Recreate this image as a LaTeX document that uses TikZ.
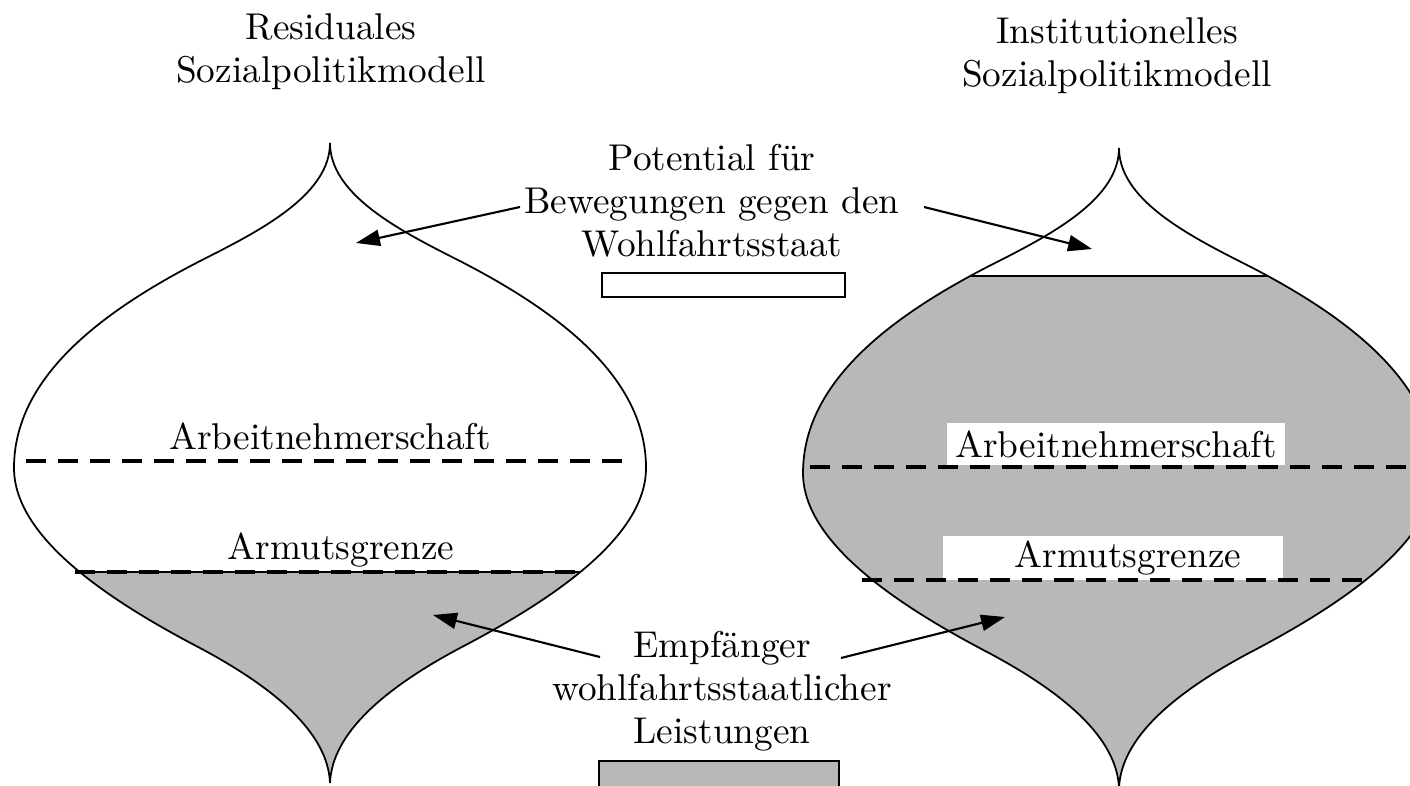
\documentclass[tikz,border=0pt]{standalone}
\usepackage{tikz}
\usetikzlibrary{arrows.meta,calc}
\definecolor{leistgray}{RGB}{184,184,184}
% outline of one model, tip at the origin
\newcommand{\zwiebel}{(0,0) .. controls (0,50) and (-65,85) .. (-120,113)
  .. controls (-230,168) and (-316,235) .. (-316,325)
  .. controls (-316,395) and (-220,458) .. (-130,505)
  .. controls (-55,545) and (-2,590) .. (0,640)
  .. controls (2,590) and (55,545) .. (130,505)
  .. controls (220,458) and (316,395) .. (316,325)
  .. controls (316,235) and (230,168) .. (120,113)
  .. controls (65,85) and (0,50) .. (0,0) -- cycle}
\tikzset{
  txt/.style={font=\fontsize{10.6}{12.2}\selectfont, align=center, inner sep=0pt},
  linie/.style={line width=1.1pt, dash pattern=on 5.7pt off 3.4pt},
  pfeil/.style={line width=0.6pt, -{Triangle[length=6.8pt,width=4.6pt]}},
}
\begin{document}
\begin{tikzpicture}[x=0.01cm, y=-0.01cm]
	\useasboundingbox (0,0) rectangle (1410,786);
	% residuales Modell
	\begin{scope}[shift={(330,143)}]
		\begin{scope}
			\clip \zwiebel;
			\filldraw[fill=leistgray, line width=0.5pt] (-330,429) rectangle (330,700);
		\end{scope}
		\draw[line width=0.5pt] \zwiebel;
	\end{scope}
	% institutionelles Modell
	\begin{scope}[shift={(1119,148)}]
		\begin{scope}
			\clip \zwiebel;
			\filldraw[fill=leistgray, line width=0.5pt] (-330,128) rectangle (330,700);
		\end{scope}
		\draw[line width=0.5pt] \zwiebel;
	\end{scope}
	% labels
	\node[txt] (titelL) at (331,52) {Residuales\\Sozialpolitikmodell};
	\node[txt] (titelR) at (1117,56) {Institutionelles\\Sozialpolitikmodell};
	\node[txt, anchor=base] (arbL) at (330,450) {Arbeitnehmerschaft};
	\node[txt, anchor=base] (armL) at (341,560) {Armutsgrenze};
	\node[txt, fill=white, minimum width=3.37cm, minimum height=0.42cm] (arbR) at (1116,444) {Arbeitnehmerschaft};
	\node[txt, fill=white, minimum width=3.39cm, minimum height=0.44cm] (armR) at (1113,558) {\hspace*{0.3cm}Armutsgrenze};
	\node[txt] (pot) at (712,201) {Potential für\\Bewegungen gegen den\\Wohlfahrtsstaat};
	\node[txt] (emp) at (722,691) {Empfänger\\wohlfahrtsstaatlicher\\Leistungen};
	% legend
	\node[draw, line width=0.5pt, fill=white, minimum width=2.43cm, minimum height=0.24cm, inner sep=0pt] (legW) at (723.5,285) {};
	\node[draw, line width=0.5pt, fill=leistgray, minimum width=2.40cm, minimum height=0.30cm, inner sep=0pt] (legG) at (719,776) {};
	% dashed lines
	\draw[linie] (26,461) -- (629,461);
	\draw[linie] (75,572) -- (582,572);
	\draw[linie] (810,467) -- (1410,467);
	\draw[linie] (862,580) -- (1367,580);
	% arrows
	\coordinate (zielL) at (356,243);
	\coordinate (zielR) at (1092,249);
	\coordinate (empfL) at (433,615);
	\coordinate (empfR) at (1005,617);
	\draw[pfeil] ($(pot.center)+(-192,6)$) -- (zielL);
	\draw[pfeil] ($(pot.center)+(212,6)$) -- (zielR);
	\draw[pfeil] ($(emp.center)+(-122,-34)$) -- (empfL);
	\draw[pfeil] ($(emp.center)+(119,-33)$) -- (empfR);
\end{tikzpicture}
\end{document}
